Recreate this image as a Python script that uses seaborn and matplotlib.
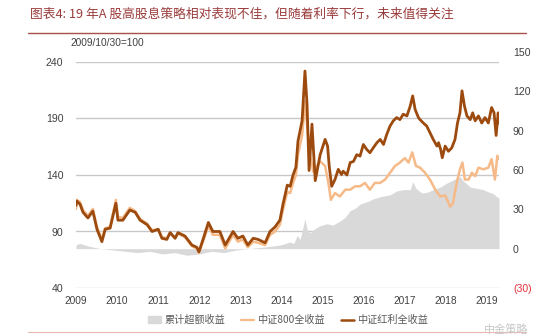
import matplotlib
matplotlib.use("Agg")
import matplotlib.pyplot as plt
import matplotlib.lines as mlines
import matplotlib.patches as mpatches
import seaborn as sns
import pandas as pd

# ---------------- data ----------------
div_dates = [2009.00, 2009.02, 2009.10, 2009.17, 2009.29, 2009.41, 2009.51, 2009.63, 2009.71, 2009.83,
             2009.97, 2010.02, 2010.14, 2010.31, 2010.44, 2010.56, 2010.73, 2010.85, 2011.00, 2011.09,
             2011.21, 2011.29, 2011.41, 2011.48, 2011.65, 2011.82, 2011.94, 2011.99, 2012.09, 2012.22,
             2012.33, 2012.50, 2012.63, 2012.82, 2012.94, 2013.06, 2013.18, 2013.31, 2013.43, 2013.60,
             2013.72, 2013.84, 2013.96, 2014.04, 2014.14, 2014.21, 2014.28, 2014.35, 2014.40, 2014.50,
             2014.57, 2014.62, 2014.67, 2014.74, 2014.82, 2014.94, 2015.06, 2015.12, 2015.16, 2015.22,
             2015.30, 2015.38, 2015.46, 2015.50, 2015.59, 2015.67, 2015.75, 2015.83, 2015.91, 2015.99,
             2016.07, 2016.15, 2016.23, 2016.32, 2016.40, 2016.48, 2016.56, 2016.64, 2016.72, 2016.80,
             2016.88, 2016.96, 2017.05, 2017.13, 2017.19, 2017.25, 2017.33, 2017.37, 2017.45, 2017.53,
             2017.61, 2017.69, 2017.78, 2017.82, 2017.87, 2017.91, 2017.98, 2018.06, 2018.14, 2018.22,
             2018.28, 2018.34, 2018.39, 2018.45, 2018.51, 2018.59, 2018.65, 2018.71, 2018.79, 2018.87,
             2018.95, 2019.03, 2019.11, 2019.17, 2019.22, 2019.27, 2019.29]
div_values = [113, 117, 114, 107, 102, 108, 92, 81, 92, 93,
              115, 100, 100, 109, 107, 100, 96, 90, 92, 84,
              83, 89, 84, 89, 86, 78, 76, 72, 83, 98,
              90, 90, 78, 90, 84, 86, 78, 84, 83, 80,
              90, 94, 100, 115, 131, 130, 140, 147, 170, 188,
              232, 203, 144, 185, 135, 158, 171.5, 165.6, 147.8, 130,
              136, 145, 140.4, 143.4, 140, 151, 152, 158, 156.7, 167,
              162.7, 159.7, 164, 168.6, 171.5, 167, 176, 183.4, 188, 190.8,
              189, 193.8, 192.3, 201, 210, 198, 190.8, 189, 186, 183.4,
              177.5, 171.5, 165.6, 168.6, 162.7, 155.3, 165.6, 161, 164, 171.5,
              186, 195, 214.5, 201, 192.3, 189, 195, 188, 192.3, 186,
              190.8, 186, 199.7, 195, 175, 195, 186]

csi_dates = [2009.00, 2009.02, 2009.10, 2009.17, 2009.29, 2009.41, 2009.51, 2009.63, 2009.71, 2009.83,
             2009.97, 2010.02, 2010.14, 2010.31, 2010.44, 2010.56, 2010.73, 2010.85, 2011.00, 2011.09,
             2011.21, 2011.29, 2011.41, 2011.48, 2011.65, 2011.82, 2011.94, 2011.99, 2012.09, 2012.22,
             2012.33, 2012.50, 2012.63, 2012.82, 2012.94, 2013.06, 2013.18, 2013.31, 2013.43, 2013.60,
             2013.72, 2013.84, 2013.96, 2014.04, 2014.14, 2014.21, 2014.28, 2014.35, 2014.40, 2014.50,
             2014.57, 2014.62, 2014.69, 2014.77, 2014.94, 2015.06, 2015.14, 2015.20, 2015.30, 2015.42,
             2015.55, 2015.67, 2015.79, 2015.91, 2016.03, 2016.15, 2016.27, 2016.40, 2016.52, 2016.64,
             2016.76, 2016.88, 2017.00, 2017.09, 2017.18, 2017.27, 2017.37, 2017.49, 2017.61, 2017.74,
             2017.86, 2017.98, 2018.10, 2018.17, 2018.26, 2018.34, 2018.40, 2018.46, 2018.55, 2018.63,
             2018.71, 2018.79, 2018.91, 2019.03, 2019.11, 2019.19, 2019.25, 2019.29]
csi_values = [110, 118, 116, 109, 104, 110, 94, 83, 93, 94,
              118, 103, 102, 111, 108, 101, 97, 91, 92, 85,
              84, 89, 84, 88, 85, 77, 75, 71, 81, 95,
              87, 87, 75, 87, 81, 83, 76, 81, 80, 78,
              87, 90, 96, 110, 125, 124, 133, 140, 158, 175,
              205, 185, 158, 143, 152, 148, 133, 118, 124, 121,
              127, 127, 130, 130, 133, 127, 133, 133, 136, 142,
              148, 151, 155, 151, 160, 148, 146.5, 142, 136, 127,
              121, 122, 112, 115, 133, 145, 151, 136, 136, 142,
              139, 146.5, 145, 146.5, 154, 136, 157, 154]

exc_dates = [2009.00, 2009.10, 2009.30, 2009.60, 2009.90, 2010.20, 2010.50, 2010.80, 2011.10, 2011.40,
             2011.70, 2012.00, 2012.30, 2012.60, 2012.90, 2013.20, 2013.50, 2013.80, 2014.00, 2014.20,
             2014.30, 2014.38, 2014.45, 2014.52, 2014.57, 2014.62, 2014.69, 2014.80, 2014.94, 2015.10,
             2015.25, 2015.42, 2015.55, 2015.67, 2015.80, 2015.91, 2016.10, 2016.23, 2016.45, 2016.64,
             2016.80, 2016.96, 2017.13, 2017.19, 2017.27, 2017.41, 2017.54, 2017.69, 2017.86, 2018.02,
             2018.17, 2018.29, 2018.34, 2018.41, 2018.59, 2018.75, 2018.91, 2019.05, 2019.15, 2019.22,
             2019.29]
exc_values = [3, 4, 2, 0, -1, -2, -3, -2, -4, -3,
              -5, -4, -2, -3, -1, 0, 1, 2, 3, 5,
              4, 10, 7, 16, 23, 15, 12, 15, 17.5, 19,
              18, 21, 24, 29, 31, 34, 36, 38, 40, 41,
              44, 45, 45, 51, 46, 42.5, 43, 45, 47, 50,
              52.4, 54, 55, 52, 47, 46, 45, 43, 42, 40,
              38.7]

left_ticks = [40, 90, 140, 190, 240]
right_ticks = [-30, 0, 30, 60, 90, 120, 150]
right_labels = ["(30)", "0", "30", "60", "90", "120", "150"]
year_ticks = list(range(2009, 2020))

title_text = "图表4: 19 年A 股高股息策略相对表现不佳，但随着利率下行，未来值得关注"
base_text = "2009/10/30=100"
names = ["累计超额收益", "中证800全收益", "中证红利全收益"]

# ---------------- style ----------------
sns.set_theme(style="white")
plt.rcParams["font.family"] = ["Liberation Sans", "Noto Sans CJK SC", "DejaVu Sans"]

W, H = 554, 334
fig = plt.figure(figsize=(W / 100, H / 100), dpi=100)

def fx(px):
    return px / W

def fy(py):
    return 1 - py / H

ax_l, ax_r_px, ax_t, ax_b = 76, 499, 62, 288
rect = [fx(ax_l), fy(ax_b), fx(ax_r_px - ax_l), (ax_b - ax_t) / H]
rect_r = [fx(ax_l), fy(ax_b), fx(ax_r_px - ax_l), (ax_b - 52) / H]

BROWN = "#9C4A0E"
ORANGE = "#F6BA88"
GRAY = "#D9D9D9"
GRID = "#C8C8C8"
TXT = "#404040"

# base axes: grid + left ticks + year ticks
ax = fig.add_axes(rect)
ax.set_xlim(2009.0, 2019.29)
ax.set_ylim(40, 240)
ax.set_yticks(left_ticks)
ax.set_xticks(year_ticks)
ax.set_xticklabels([str(y) for y in year_ticks])
for s in ax.spines.values():
    s.set_visible(False)
ax.grid(axis="y", color=GRID, linewidth=1.0)
ax.grid(axis="x", visible=False)
ax.tick_params(axis="y", length=0, pad=9, labelsize=7.6, labelcolor=TXT)
ax.tick_params(axis="x", length=0, pad=6, labelsize=7.3, labelcolor=TXT)

# right axes: excess return area
axr = fig.add_axes(rect_r, sharex=ax)
axr.patch.set_visible(False)
axr.fill_between(exc_dates, 0, exc_values, color=GRAY, linewidth=0)
axr.set_ylim(-30, 150)
axr.set_yticks(right_ticks)
axr.set_yticklabels(right_labels)
axr.yaxis.tick_right()
axr.tick_params(axis="y", length=0, pad=10, labelsize=7.6, labelcolor=TXT)
axr.tick_params(axis="x", bottom=False, labelbottom=False, length=0)
for s in axr.spines.values():
    s.set_visible(False)
axr.grid(False)
axr.get_yticklabels()[0].set_color("#E0303A")

# top axes: lines
axl = fig.add_axes(rect, sharex=ax, sharey=ax)
axl.patch.set_visible(False)
df_csi = pd.DataFrame({"date": csi_dates, "value": csi_values})
df_div = pd.DataFrame({"date": div_dates, "value": div_values})
sns.lineplot(data=df_csi, x="date", y="value", ax=axl, color=ORANGE, linewidth=1.8)
sns.lineplot(data=df_div, x="date", y="value", ax=axl, color=BROWN, linewidth=2.0)
axl.set_axis_off()

# ---------------- texts ----------------
cjk = ["Noto Sans CJK SC", "DejaVu Sans"]
fig.text(fx(30), fy(14), title_text, fontsize=9.2, color="#9A3B3B", va="center", ha="left",
         family=cjk)
fig.add_artist(mlines.Line2D([fx(28), fx(526)], [fy(33), fy(33)], color="#A9504A", linewidth=1.0))
fig.text(fx(70), fy(43), base_text, fontsize=7.3, color=TXT, va="center", ha="left")
fig.add_artist(mlines.Line2D([fx(28), fx(526)], [fy(332), fy(332)], color="#E8B8B0", linewidth=0.8))
fig.text(fx(484), fy(330), "中金策略", fontsize=8, color="#C8C8C8", va="center", ha="left",
         family=cjk)

handles = [mpatches.Patch(color=GRAY, label=names[0]),
           mlines.Line2D([], [], color=ORANGE, linewidth=1.6, label=names[1]),
           mlines.Line2D([], [], color=BROWN, linewidth=1.8, label=names[2])]
leg = fig.legend(handles=handles, loc="center", bbox_to_anchor=(fx(288), fy(320)), ncol=3,
                 frameon=False, handlelength=1.3, handleheight=0.6,
                 handletextpad=0.3, columnspacing=1.6, prop={"family": cjk, "size": 7.3})
for t in leg.get_texts():
    t.set_color("#595959")

fig.savefig("out.png", dpi=100)
